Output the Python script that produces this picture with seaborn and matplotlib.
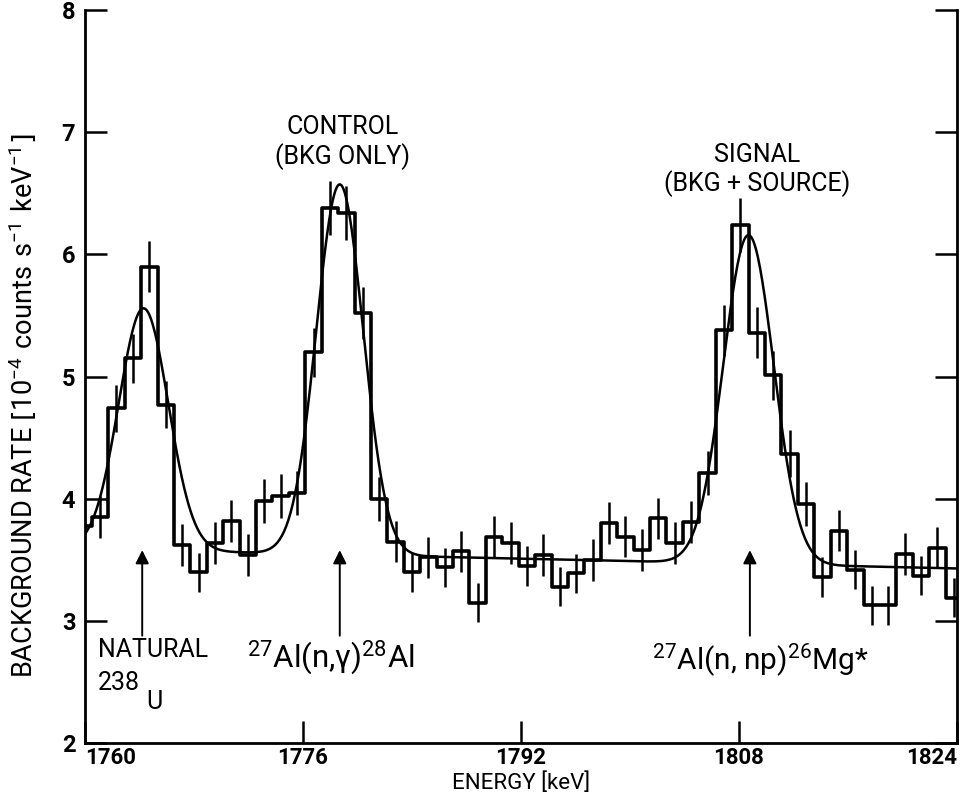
import numpy as np
import pandas as pd
import matplotlib
matplotlib.use("Agg")
import matplotlib.pyplot as plt
import seaborn as sns

# spectrum channels (keV)
first_edge = 1759.3
bin_width = 1.205

# measured background rate per channel [1e-4 counts/s/keV]
rate = [3.78, 3.85, 4.74, 5.15, 5.90, 4.77, 3.62, 3.40, 3.64, 3.82,
        3.54, 3.98, 4.02, 4.05, 5.20, 6.38, 6.34, 5.52, 4.00, 3.65,
        3.40, 3.52, 3.44, 3.57, 3.15, 3.69, 3.64, 3.45, 3.54, 3.28,
        3.39, 3.50, 3.80, 3.69, 3.58, 3.84, 3.64, 3.81, 4.21, 5.38,
        6.24, 5.36, 5.01, 4.37, 3.96, 3.36, 3.74, 3.42, 3.13, 3.13,
        3.55, 3.37, 3.60, 3.19]
rate_err = [0.17, 0.17, 0.19, 0.20, 0.21, 0.19, 0.17, 0.16, 0.17, 0.17,
            0.17, 0.18, 0.18, 0.18, 0.20, 0.22, 0.22, 0.21, 0.18, 0.17,
            0.16, 0.17, 0.16, 0.17, 0.16, 0.17, 0.17, 0.16, 0.17, 0.16,
            0.16, 0.17, 0.17, 0.17, 0.17, 0.17, 0.17, 0.17, 0.18, 0.21,
            0.22, 0.21, 0.20, 0.19, 0.18, 0.16, 0.17, 0.16, 0.16, 0.16,
            0.17, 0.16, 0.17, 0.16]

# fitted line: three gaussians on a sloping background
peak_centre = [1764.3, 1778.7, 1808.7]
peak_height = [1.98, 3.03, 2.69]
peak_sigma = [1.82, 1.72, 1.85]
bkg_level = 3.51   # at 1792 keV
bkg_slope = -0.0025

arrow_energy = [1764.2, 1778.7, 1808.8]

sns.set_theme(style="ticks")
plt.rcParams['font.family'] = ['Roboto', 'DejaVu Sans']
plt.rcParams['mathtext.default'] = 'regular'
for k in ['text.color', 'axes.labelcolor', 'xtick.color', 'ytick.color']:
    plt.rcParams[k] = 'black'

edges = [first_edge + bin_width * i for i in range(len(rate) + 1)]
centres = [edges[i] + bin_width / 2 for i in range(len(rate))]
df = pd.DataFrame({'energy': centres, 'rate': rate, 'err': rate_err})

e_grid = np.linspace(1759, 1825, 800)
model = bkg_level + bkg_slope * (e_grid - 1792)
for c, h, s in zip(peak_centre, peak_height, peak_sigma):
    model = model + h * np.exp(-0.5 * ((e_grid - c) / s) ** 2)

fig, ax = plt.subplots(figsize=(9.69, 8), dpi=100)
fig.subplots_adjust(left=0.0877, right=0.9876, bottom=0.071, top=0.9875)

sns.histplot(data=df, x='energy', weights='rate', bins=edges, element='step',
             fill=False, color='black', linewidth=2.6, ax=ax)
ax.errorbar(df['energy'], df['rate'], yerr=df['err'], fmt='none',
            ecolor='black', elinewidth=1.8, capsize=0)
sns.lineplot(x=e_grid, y=model, color='black', linewidth=1.8, ax=ax)

for e in arrow_energy:
    ax.annotate('', xy=(e, 3.58), xytext=(e, 2.88),
                arrowprops=dict(arrowstyle='-|>', color='black', lw=1.4,
                                mutation_scale=20, shrinkA=0, shrinkB=0))

ax.text(1778.9, 7.04, 'CONTROL', ha='center', va='center', fontsize=18)
ax.text(1778.9, 6.80, '(BKG ONLY)', ha='center', va='center', fontsize=18)
ax.text(1809.3, 6.81, 'SIGNAL', ha='center', va='center', fontsize=18)
ax.text(1809.3, 6.58, '(BKG + SOURCE)', ha='center', va='center', fontsize=18)
ax.text(1760.95, 2.76, 'NATURAL', ha='left', va='center', fontsize=18)
ax.text(1760.95, 2.49, '238', ha='left', va='center', fontsize=18)
ax.text(1764.5, 2.34, 'U', ha='left', va='center', fontsize=18)
ax.text(1771.9, 2.70, '$^{27}$Al(n,γ)$^{28}$Al', ha='left', va='center', fontsize=22.5)
ax.text(1801.6, 2.68, '$^{27}$Al(n, np)$^{26}$Mg*', ha='left', va='center', fontsize=21.5)

ax.set_xlim(1760, 1824)
ax.set_ylim(2, 8)
ax.set_xticks([1760, 1776, 1792, 1808, 1824])
ax.set_yticks([2, 3, 4, 5, 6, 7, 8])
ax.tick_params(direction='in', length=16, width=1.8, right=True, top=False)
ax.tick_params(axis='x', labelsize=16, pad=3)
ax.tick_params(axis='y', labelsize=17, pad=7)
for lab in ax.get_xticklabels() + ax.get_yticklabels():
    lab.set_fontweight('bold')
xl = ax.get_xticklabels()
xl[0].set_horizontalalignment('left')
xl[-1].set_horizontalalignment('right')

ax.spines['top'].set_visible(False)
for side in ['left', 'right', 'bottom']:
    ax.spines[side].set_linewidth(2)
    ax.spines[side].set_color('black')

ax.set_xlabel('ENERGY [keV]', fontsize=16, labelpad=2)
ax.set_ylabel(r'BACKGROUND RATE $\left[10^{-4}\ counts\ s^{-1}\ keV^{-1}\right]$',
              fontsize=19.5)
ax.yaxis.set_label_coords(-0.054, 0.46)

fig.savefig('out.png', dpi=100, facecolor='white')
